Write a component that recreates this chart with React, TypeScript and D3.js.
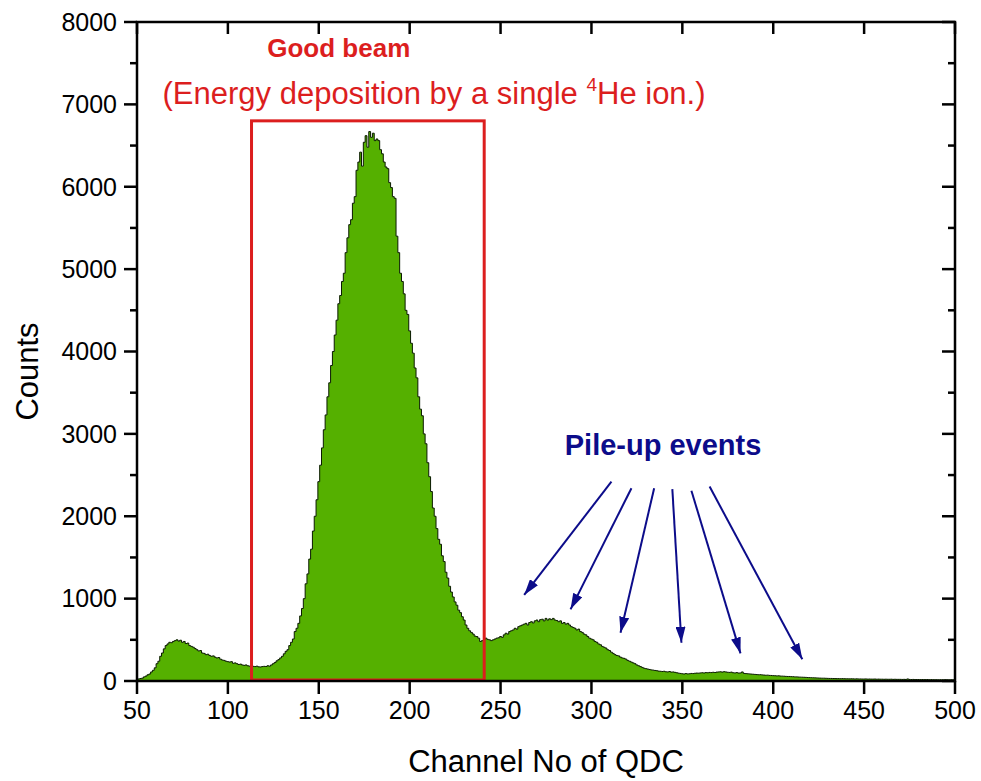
import React from "react";
import * as d3 from "d3";

// ---- data ----
const channelStart = 50;
const counts: number[] = [
  20, 25, 30, 35, 50, 60, 75, 85, 110, 130,
  160, 210, 240, 300, 340, 390, 430, 450, 470, 465,
  480, 490, 500, 485, 495, 470, 480, 455, 460, 430,
  420, 410, 395, 380, 365, 370, 340, 335, 320, 325,
  310, 300, 305, 290, 280, 285, 265, 255, 250, 240,
  235, 230, 235, 215, 220, 210, 200, 205, 195, 190,
  195, 185, 180, 182, 178, 175, 180, 172, 170, 175,
  178, 176, 185, 180, 195, 210, 225, 245, 260, 280,
  300, 330, 360, 380, 430, 470, 510, 600, 640, 700,
  790, 880, 1000, 1180, 1300, 1480, 1600, 1820, 2000, 2200,
  2420, 2620, 2830, 3050, 3230, 3450, 3620, 3830, 4000, 4200,
  4380, 4580, 4680, 4850, 4950, 5200, 5380, 5540, 5600, 5800,
  5880, 6200, 6300, 6420, 6250, 6540, 6620, 6480, 6670, 6600,
  6650, 6560, 6580, 6560, 6450, 6400, 6300, 6240, 6220, 6050,
  5990, 5880, 5860, 5400, 5200, 4950, 4850, 4700, 4500, 4450,
  4250, 4100, 3980, 3800, 3680, 3450, 3300, 3220, 3000, 2880,
  2650, 2480, 2300, 2100, 2000, 1850, 1720, 1660, 1520, 1450,
  1320, 1250, 1150, 1080, 1020, 960, 920, 860, 830, 780,
  740, 680, 640, 610, 590, 570, 545, 540, 520, 480,
  490, 500, 520, 505, 500, 490, 500, 510, 520, 525,
  540, 530, 560, 580, 570, 600, 610, 620, 640, 630,
  660, 670, 680, 690, 700, 680, 710, 720, 705, 730,
  740, 720, 745, 750, 730, 760, 740, 755, 745, 760,
  740, 735, 720, 730, 700, 710, 690, 700, 680, 660,
  650, 640, 620, 630, 600, 590, 570, 560, 540, 520,
  510, 500, 480, 470, 450, 440, 420, 410, 400, 380,
  370, 350, 335, 320, 310, 305, 290, 280, 275, 265,
  250, 240, 230, 220, 210, 195, 185, 175, 165, 155,
  150, 145, 140, 135, 132, 128, 125, 120, 118, 115,
  118, 112, 110, 115, 108, 110, 105, 100, 95, 92,
  88, 85, 90, 86, 88, 92, 90, 94, 96, 95,
  98, 100, 97, 102, 100, 104, 102, 106, 103, 108,
  110, 112, 108, 113, 110, 106, 104, 108, 100, 98,
  102, 96, 98, 110, 92, 90, 88, 86, 84, 82,
  80, 78, 76, 77, 74, 72, 70, 71, 68, 67,
  65, 64, 62, 63, 60, 59, 58, 56, 55, 55,
  53, 52, 50, 50, 48, 47, 46, 45, 44, 42,
  41, 40, 39, 38, 37, 36, 35, 34, 34, 33,
  32, 31, 31, 30, 30, 29, 29, 28, 29, 28,
  27, 27, 26, 27, 26, 25, 26, 25, 25, 24,
  24, 25, 23, 24, 23, 23, 24, 22, 23, 22,
  22, 21, 22, 21, 21, 22, 20, 21, 20, 20,
  20, 19, 20, 19, 25, 19, 18, 19, 18, 18,
  18, 17, 18, 17, 17, 18, 16, 17, 16, 16,
  16, 15, 16, 15, 15, 16, 15, 14, 15, 14,
  14,
];

const xTicks = [50, 100, 150, 200, 250, 300, 350, 400, 450, 500];
const yTicks = [0, 1000, 2000, 3000, 4000, 5000, 6000, 7000, 8000];
const yMinorTicks = [500, 1500, 2500, 3500, 4500, 5500, 6500, 7500];

// Good beam box [x0, x1, yTop] in data units
const boxX = [113, 241];
const boxTop = 6800;

// Pile-up arrows: [x0, y0, x1, y1] in data units
const arrowStartX = [311, 322, 334.5, 344.5, 355, 365];
const arrowStartY = [2420, 2340, 2340, 2330, 2310, 2360];
const arrowEndX = [263, 288.5, 316, 349.5, 382, 416];
const arrowEndY = [1045, 870, 585, 465, 335, 265];

const W = 981;
const H = 781;
const M = { left: 137, right: 26, top: 22, bottom: 100 };

export default function App() {
  const x = d3.scaleLinear().domain([50, 500]).range([M.left, W - M.right]);
  const y = d3.scaleLinear().domain([0, 8000]).range([H - M.bottom, M.top]);

  const pts = counts.map((v, i) => ({ c: channelStart + i, v }));
  const area = d3
    .area<{ c: number; v: number }>()
    .x((d) => x(d.c))
    .y0(y(0))
    .y1((d) => y(d.v))
    .curve(d3.curveStep);
  const line = d3
    .line<{ c: number; v: number }>()
    .x((d) => x(d.c))
    .y((d) => y(d.v))
    .curve(d3.curveStep);

  const font = "'Liberation Sans', Arial, Helvetica, sans-serif";
  const red = "#dc1e1e";
  const navy = "#0c0c8a";
  const x0 = x(50), x1 = x(500), y0 = y(0), y1 = y(8000);

  return (
    <svg
      width={W}
      height={H}
      style={{ position: "absolute", left: 0, top: 0, background: "#fff" }}
      fontFamily={font}
    >
      <defs>
        <clipPath id="plot">
          <rect x={x0} y={y1} width={x1 - x0} height={y0 - y1} />
        </clipPath>
        <marker
          id="ah"
          viewBox="0 0 16 10"
          markerWidth={16}
          markerHeight={10}
          refX={16}
          refY={5}
          orient="auto"
          markerUnits="userSpaceOnUse"
        >
          <path d="M0,0 L16,5 L0,10 Z" fill={navy} />
        </marker>
      </defs>
      <rect x={0} y={0} width={W} height={H} fill="#fff" />

      <g clipPath="url(#plot)">
        <path d={area(pts) ?? ""} fill="#55b000" />
        <path d={line(pts) ?? ""} fill="none" stroke="#0a1a00" strokeWidth={1} />
      </g>

      {/* Good beam box */}
      <rect
        x={x(boxX[0])}
        y={y(boxTop)}
        width={x(boxX[1]) - x(boxX[0])}
        height={y(0) - y(boxTop) - 1}
        fill="none"
        stroke={red}
        strokeWidth={3}
      />

      {/* arrows */}
      {arrowStartX.map((sx, i) => (
        <line
          key={i}
          x1={x(sx)}
          y1={y(arrowStartY[i])}
          x2={x(arrowEndX[i])}
          y2={y(arrowEndY[i])}
          stroke={navy}
          strokeWidth={2}
          markerEnd="url(#ah)"
        />
      ))}

      {/* frame */}
      <rect x={x0} y={y1} width={x1 - x0} height={y0 - y1} fill="none" stroke="#000" strokeWidth={2.5} />

      {/* bottom ticks (outward) and top ticks (inward) */}
      {xTicks.map((t) => (
        <g key={"xt" + t}>
          <line x1={x(t)} x2={x(t)} y1={y0} y2={y0 + 13} stroke="#000" strokeWidth={2.5} />
          <line x1={x(t)} x2={x(t)} y1={y1} y2={y1 + 12} stroke="#000" strokeWidth={2.5} />
          <text x={x(t)} y={y0 + 38} textAnchor="middle" fontSize={25} fill="#000">
            {t}
          </text>
        </g>
      ))}
      {/* left ticks (outward) and right ticks (inward) */}
      {yTicks.map((t) => (
        <g key={"yt" + t}>
          <line x1={x0 - 13} x2={x0} y1={y(t)} y2={y(t)} stroke="#000" strokeWidth={2.5} />
          <line x1={x1 - 13} x2={x1} y1={y(t)} y2={y(t)} stroke="#000" strokeWidth={2.5} />
          <text x={x0 - 20} y={y(t)} dy="0.35em" textAnchor="end" fontSize={25} fill="#000">
            {t}
          </text>
        </g>
      ))}
      {yMinorTicks.map((t) => (
        <g key={"ym" + t}>
          <line x1={x0 - 7} x2={x0} y1={y(t)} y2={y(t)} stroke="#000" strokeWidth={2.5} />
          <line x1={x1 - 7} x2={x1} y1={y(t)} y2={y(t)} stroke="#000" strokeWidth={2.5} />
        </g>
      ))}

      {/* axis titles */}
      <text x={(x0 + x1) / 2} y={772} textAnchor="middle" fontSize={31} fill="#000">
        Channel No of QDC
      </text>
      <text
        transform={`translate(38, ${(y0 + y1) / 2 + 20}) rotate(-90)`}
        textAnchor="middle"
        fontSize={31}
        fill="#000"
      >
        Counts
      </text>

      {/* annotations */}
      <text x={x(161)} y={y(7570)} textAnchor="middle" fontSize={26} fontWeight="bold" fill={red}>
        Good beam
      </text>
      <text x={x(213.4)} y={y(7000)} textAnchor="middle" fontSize={31} fill={red}>
        (Energy deposition by a single <tspan fontSize={19} dy={-13}>4</tspan>
        <tspan dy={13}>He ion.)</tspan>
      </text>
      <text x={x(339.4)} y={y(2745)} textAnchor="middle" fontSize={29} fontWeight="bold" fill={navy}>
        Pile-up events
      </text>
    </svg>
  );
}
